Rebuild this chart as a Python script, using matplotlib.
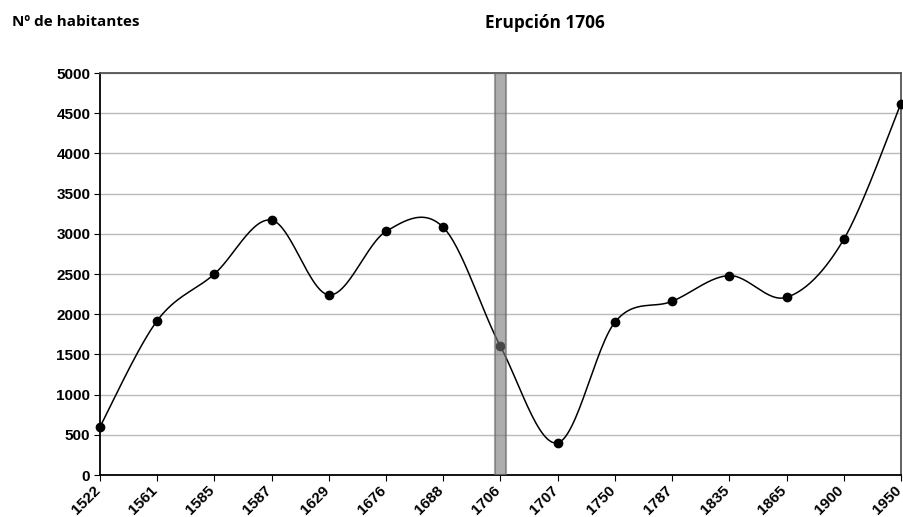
import numpy as np
import matplotlib
matplotlib.use("Agg")
from matplotlib import pyplot as plt
from matplotlib import transforms

years = ["1522", "1561", "1585", "1587", "1629", "1676", "1688", "1706",
         "1707", "1750", "1787", "1835", "1865", "1900", "1950"]
habitantes = [600, 1920, 2500, 3170, 2240, 3030, 3080, 1600,
              400, 1900, 2160, 2480, 2210, 2930, 4620]
erupcion = "1706"

def smooth(x, y, n=30):
    # bezier curve through the points, like the spreadsheet "smoothed line"
    x = np.asarray(x, float)
    y = np.asarray(y, float)
    px = np.concatenate([[x[0]], x, [x[-1]]])
    py = np.concatenate([[y[0]], y, [y[-1]]])
    xs, ys = [], []
    t = np.linspace(0, 1, n)
    for i in range(1, len(px) - 2):
        p0 = np.array([px[i], py[i]])
        p3 = np.array([px[i + 1], py[i + 1]])
        p1 = p0 + (np.array([px[i + 1], py[i + 1]]) - np.array([px[i - 1], py[i - 1]])) / 6
        p2 = p3 - (np.array([px[i + 2], py[i + 2]]) - np.array([px[i], py[i]])) / 6
        b = ((1 - t) ** 3)[:, None] * p0 + (3 * (1 - t) ** 2 * t)[:, None] * p1 \
            + (3 * (1 - t) * t ** 2)[:, None] * p2 + (t ** 3)[:, None] * p3
        xs.extend(b[:, 0])
        ys.extend(b[:, 1])
    return np.array(xs), np.array(ys)

fig = plt.figure(figsize=(9.04, 5.17), dpi=100)
ax = fig.add_axes([0.1106, 0.0812, 0.886, 0.7776])

pos = np.arange(len(years))
sx, sy = smooth(pos, habitantes)
ax.plot(sx, sy, color="black", lw=1.1, zorder=3)
ax.plot(pos, habitantes, "o", color="black", ms=6, zorder=4, clip_on=False)

# eruption bar
k = years.index(erupcion)
ax.bar(k, 5000, width=0.2, color="#777777", alpha=0.6, edgecolor="#666666",
       linewidth=1.5, zorder=5)

ax.set_xlim(0, len(years) - 1)
ax.set_ylim(0, 5000)
ax.set_yticks(np.arange(0, 5001, 500))
ax.set_xticks(pos)
ax.set_xticklabels([])
# rotated year labels, nudged a bit left so the last one stays inside
shift = transforms.ScaledTranslation(-7 / 100, -8 / 100, fig.dpi_scale_trans)
for p, lab in zip(pos, years):
    ax.text(p, 0, lab, transform=ax.get_xaxis_transform() + shift,
            rotation=45, ha="right", va="top", rotation_mode="anchor",
            fontfamily="Liberation Sans", fontweight="bold", fontsize=11)
for lab in ax.get_yticklabels():
    lab.set_fontfamily("Liberation Sans")
    lab.set_fontweight("bold")
    lab.set_fontsize(11)
ax.tick_params(axis="x", length=4, pad=3)
ax.tick_params(axis="y", length=4, pad=3)
ax.yaxis.grid(True, color="#bbbbbb", lw=1)
ax.set_axisbelow(True)
for s in ["left", "bottom"]:
    ax.spines[s].set_color("black")
    ax.spines[s].set_linewidth(1.3)
for s in ["top", "right"]:
    ax.spines[s].set_color("#555555")
    ax.spines[s].set_linewidth(1.3)

fig.text(12 / 904, 1 - 22 / 517, "Nº de habitantes", fontfamily="Open Sans",
         fontweight="bold", fontsize=11, va="center", ha="left")
fig.text(545 / 904, 1 - 23 / 517, "Erupción 1706", fontfamily="Open Sans",
         fontweight="bold", fontsize=12.4, va="center", ha="center")

fig.savefig("out.png", dpi=100)
